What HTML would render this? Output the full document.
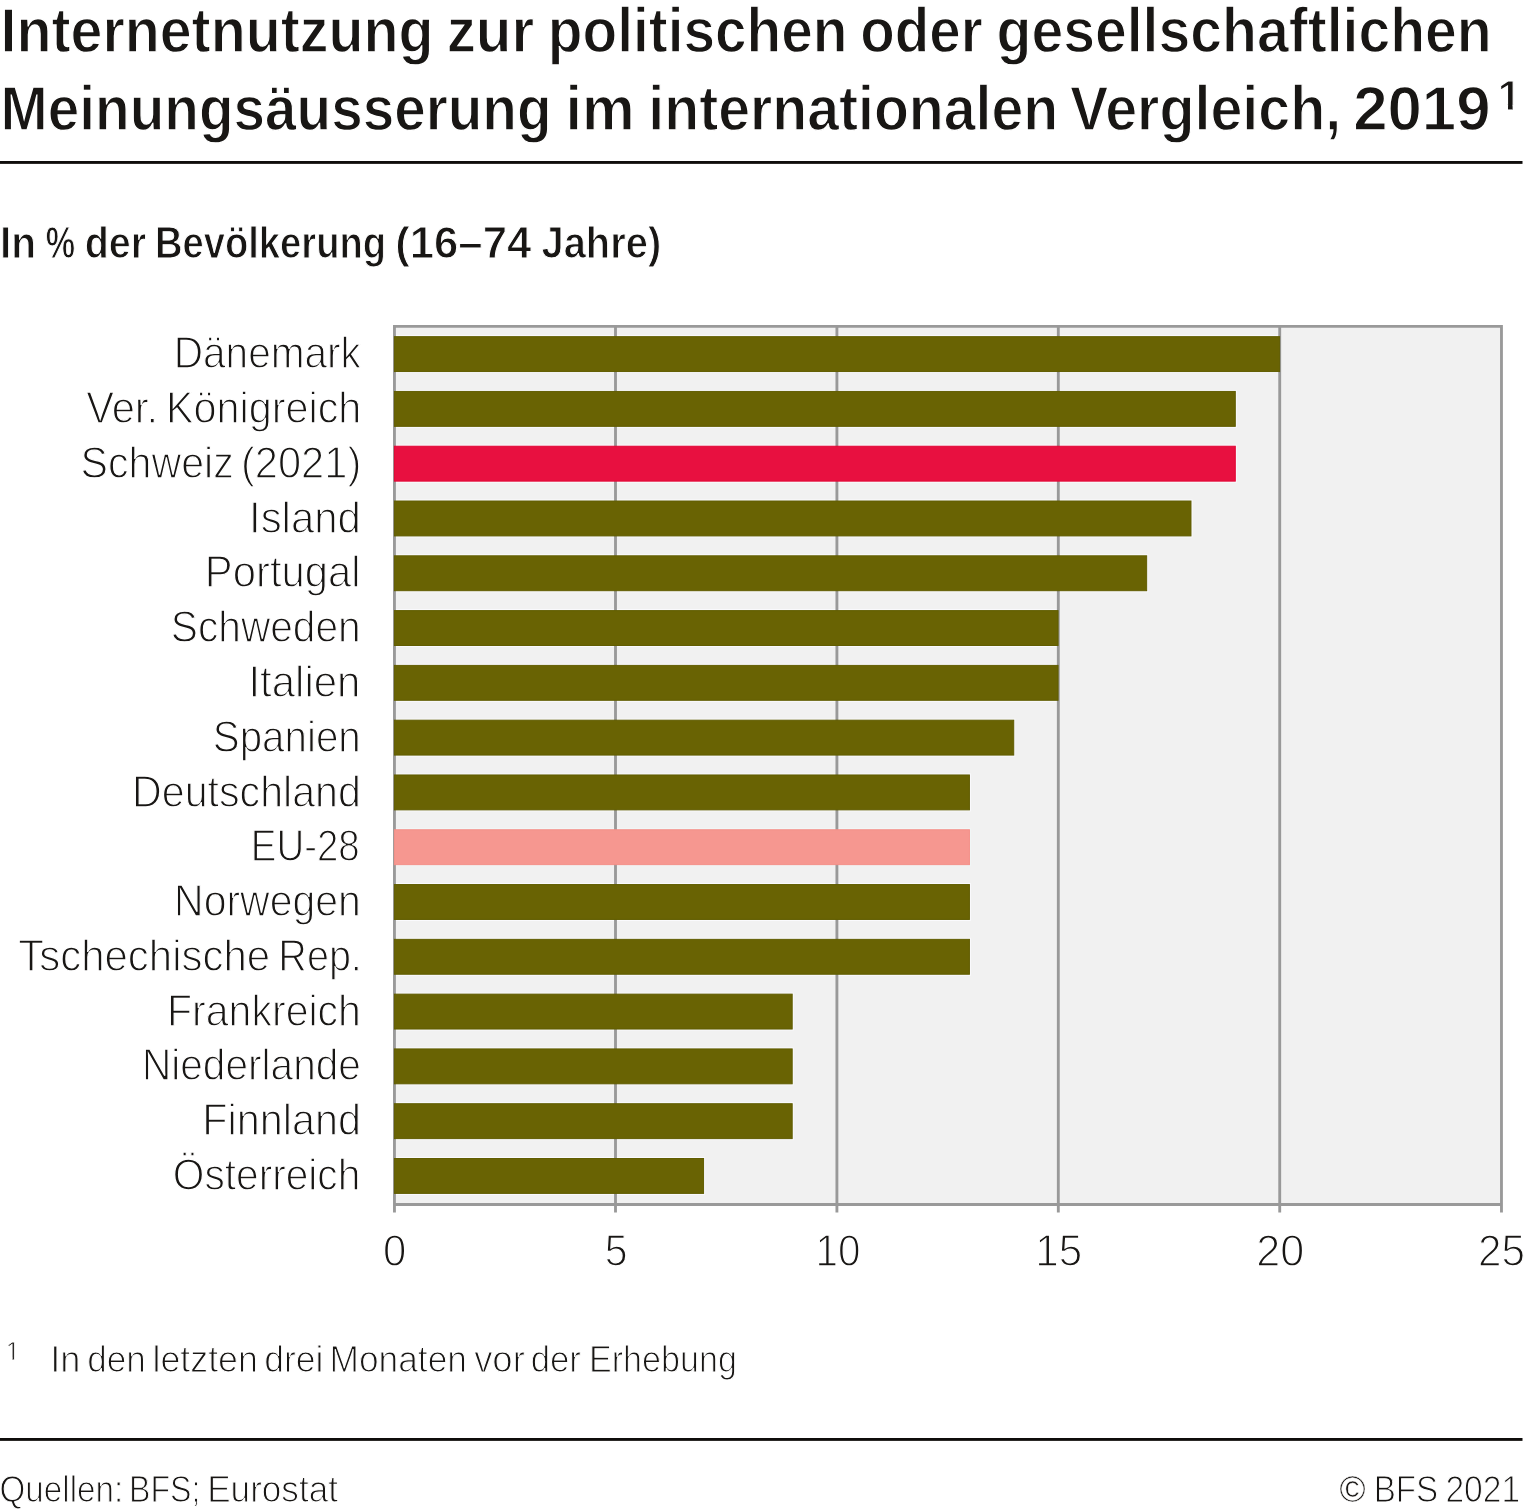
<!DOCTYPE html>
<html lang="de"><head><meta charset="utf-8"><title>Internetnutzung zur politischen oder gesellschaftlichen Meinungsäusserung im internationalen Vergleich, 2019</title>
<style>
html,body{margin:0;padding:0;background:#fff}
svg{display:block}
text{font-family:"Liberation Sans",sans-serif;fill:#181614;stroke:#fff}
.b{font-weight:bold;stroke-width:1.3}
.m{font-weight:bold;stroke-width:1.0}
.l{font-weight:normal;stroke-width:1.3}
.s{font-weight:normal;stroke-width:1.1}
</style></head><body>
<svg width="1524" height="1511" viewBox="0 0 1524 1511">
<rect width="1524" height="1511" fill="#fff"/>
<rect x="0" y="161" width="1522.5" height="2.87" fill="#0f0d0b"/>
<rect x="0" y="1438" width="1522.5" height="2.87" fill="#0f0d0b"/>
<rect x="394.45" y="326.4" width="1107.02" height="878.10" fill="#f1f1f1"/>
<rect x="394.45" y="335.15" width="886.65" height="37.90" fill="#fafafd"/>
<rect x="394.45" y="389.94" width="842.34" height="37.90" fill="#fafafd"/>
<rect x="394.45" y="444.73" width="842.34" height="37.90" fill="#fafafd"/>
<rect x="394.45" y="499.52" width="798.03" height="37.90" fill="#fafafd"/>
<rect x="394.45" y="554.31" width="753.72" height="37.90" fill="#fafafd"/>
<rect x="394.45" y="609.10" width="665.10" height="37.90" fill="#fafafd"/>
<rect x="394.45" y="663.89" width="665.10" height="37.90" fill="#fafafd"/>
<rect x="394.45" y="718.68" width="620.79" height="37.90" fill="#fafafd"/>
<rect x="394.45" y="773.47" width="576.48" height="37.90" fill="#fafafd"/>
<rect x="394.45" y="828.26" width="576.48" height="37.90" fill="#f1f7f7"/>
<rect x="394.45" y="883.05" width="576.48" height="37.90" fill="#fafafd"/>
<rect x="394.45" y="937.84" width="576.48" height="37.90" fill="#fafafd"/>
<rect x="394.45" y="992.63" width="399.24" height="37.90" fill="#fafafd"/>
<rect x="394.45" y="1047.42" width="399.24" height="37.90" fill="#fafafd"/>
<rect x="394.45" y="1102.21" width="399.24" height="37.90" fill="#fafafd"/>
<rect x="394.45" y="1157.00" width="310.62" height="37.90" fill="#fafafd"/>
<path d="M615.50 326.40V1212.50M836.91 326.40V1212.50M1058.31 326.40V1212.50M1279.72 326.40V1212.50M394.45 326.40V1212.50M1501.47 326.40V1212.50M393.02 326.4H1502.89M393.02 1204.5H1502.89" stroke="#999999" stroke-width="2.85" fill="none"/>
<rect x="394.40" y="336.65" width="885.20" height="34.9" fill="#696303" stroke="#615d01" stroke-width="1"/>
<rect x="394.40" y="391.44" width="840.89" height="34.9" fill="#696303" stroke="#615d01" stroke-width="1"/>
<rect x="394.40" y="446.23" width="840.89" height="34.9" fill="#e81040" stroke="#e20534" stroke-width="1"/>
<rect x="394.40" y="501.02" width="796.58" height="34.9" fill="#696303" stroke="#615d01" stroke-width="1"/>
<rect x="394.40" y="555.81" width="752.27" height="34.9" fill="#696303" stroke="#615d01" stroke-width="1"/>
<rect x="394.40" y="610.60" width="663.65" height="34.9" fill="#696303" stroke="#615d01" stroke-width="1"/>
<rect x="394.40" y="665.39" width="663.65" height="34.9" fill="#696303" stroke="#615d01" stroke-width="1"/>
<rect x="394.40" y="720.18" width="619.34" height="34.9" fill="#696303" stroke="#615d01" stroke-width="1"/>
<rect x="394.40" y="774.97" width="575.03" height="34.9" fill="#696303" stroke="#615d01" stroke-width="1"/>
<rect x="394.40" y="829.76" width="575.03" height="34.9" fill="#f69790" stroke="#f48f88" stroke-width="1"/>
<rect x="394.40" y="884.55" width="575.03" height="34.9" fill="#696303" stroke="#615d01" stroke-width="1"/>
<rect x="394.40" y="939.34" width="575.03" height="34.9" fill="#696303" stroke="#615d01" stroke-width="1"/>
<rect x="394.40" y="994.13" width="397.79" height="34.9" fill="#696303" stroke="#615d01" stroke-width="1"/>
<rect x="394.40" y="1048.92" width="397.79" height="34.9" fill="#696303" stroke="#615d01" stroke-width="1"/>
<rect x="394.40" y="1103.71" width="397.79" height="34.9" fill="#696303" stroke="#615d01" stroke-width="1"/>
<rect x="394.40" y="1158.50" width="309.17" height="34.9" fill="#696303" stroke="#615d01" stroke-width="1"/>
<text class="b" y="51.90" font-size="63.4"><tspan id="t1_0" x="0.52" textLength="432.97" lengthAdjust="spacingAndGlyphs">Internetnutzung</tspan> <tspan id="t1_1" x="446.67" textLength="87.59" lengthAdjust="spacingAndGlyphs">zur</tspan> <tspan id="t1_2" x="547.83" textLength="299.66" lengthAdjust="spacingAndGlyphs">politischen</tspan> <tspan id="t1_3" x="860.35" textLength="122.44" lengthAdjust="spacingAndGlyphs">oder</tspan> <tspan id="t1_4" x="996.57" textLength="495.19" lengthAdjust="spacingAndGlyphs">gesellschaftlichen</tspan></text>
<text class="b" y="130.20" font-size="63.4"><tspan id="t2_0" x="0.57" textLength="551.04" lengthAdjust="spacingAndGlyphs">Meinungsäusserung</tspan> <tspan id="t2_1" x="565.46" textLength="69.10" lengthAdjust="spacingAndGlyphs">im</tspan> <tspan id="t2_2" x="648.36" textLength="409.87" lengthAdjust="spacingAndGlyphs">internationalen</tspan> <tspan id="t2_3" x="1070.01" textLength="271.25" lengthAdjust="spacingAndGlyphs">Vergleich,</tspan> <tspan id="t2_4" x="1353.16" textLength="137.43" lengthAdjust="spacingAndGlyphs">2019</tspan></text>
<text class="m" y="257.60" font-size="43.6"><tspan id="st_0" x="-0.11" textLength="36.21" lengthAdjust="spacingAndGlyphs">In</tspan> <tspan id="st_1" x="45.76" textLength="29.35" lengthAdjust="spacingAndGlyphs">%</tspan> <tspan id="st_2" x="84.75" textLength="61.32" lengthAdjust="spacingAndGlyphs">der</tspan> <tspan id="st_3" x="154.92" textLength="231.18" lengthAdjust="spacingAndGlyphs">Bevölkerung</tspan> <tspan id="st_4" x="395.21" textLength="136.08" lengthAdjust="spacingAndGlyphs">(16–74</tspan> <tspan id="st_5" x="541.54" textLength="119.66" lengthAdjust="spacingAndGlyphs">Jahre)</tspan></text>
<text class="l" y="368.20" font-size="44.9"><tspan id="l0_0" x="173.68" textLength="187.24" lengthAdjust="spacingAndGlyphs">Dänemark</tspan></text>
<text class="l" y="422.99" font-size="44.9"><tspan id="l1_0" x="86.14" textLength="71.89" lengthAdjust="spacingAndGlyphs">Ver.</tspan> <tspan id="l1_1" x="165.90" textLength="195.46" lengthAdjust="spacingAndGlyphs">Königreich</tspan></text>
<text class="l" y="477.78" font-size="44.9"><tspan id="l2_0" x="80.59" textLength="153.19" lengthAdjust="spacingAndGlyphs">Schweiz</tspan> <tspan id="l2_1" x="240.95" textLength="120.30" lengthAdjust="spacingAndGlyphs">(2021)</tspan></text>
<text class="l" y="532.57" font-size="44.9"><tspan id="l3_0" x="249.01" textLength="111.84" lengthAdjust="spacingAndGlyphs">Island</tspan></text>
<text class="l" y="587.36" font-size="44.9"><tspan id="l4_0" x="204.85" textLength="155.69" lengthAdjust="spacingAndGlyphs">Portugal</tspan></text>
<text class="l" y="642.15" font-size="44.9"><tspan id="l5_0" x="170.83" textLength="189.89" lengthAdjust="spacingAndGlyphs">Schweden</tspan></text>
<text class="l" y="696.94" font-size="44.9"><tspan id="l6_0" x="248.45" textLength="112.00" lengthAdjust="spacingAndGlyphs">Italien</tspan></text>
<text class="l" y="751.73" font-size="44.9"><tspan id="l7_0" x="212.73" textLength="148.06" lengthAdjust="spacingAndGlyphs">Spanien</tspan></text>
<text class="l" y="806.52" font-size="44.9"><tspan id="l8_0" x="131.99" textLength="228.96" lengthAdjust="spacingAndGlyphs">Deutschland</tspan></text>
<text class="l" y="861.31" font-size="44.9"><tspan id="l9_0" x="250.79" textLength="108.96" lengthAdjust="spacingAndGlyphs">EU-28</tspan></text>
<text class="l" y="916.10" font-size="44.9"><tspan id="l10_0" x="174.04" textLength="186.87" lengthAdjust="spacingAndGlyphs">Norwegen</tspan></text>
<text class="l" y="970.89" font-size="44.9"><tspan id="l11_0" x="18.26" textLength="251.92" lengthAdjust="spacingAndGlyphs">Tschechische</tspan> <tspan id="l11_1" x="278.35" textLength="83.51" lengthAdjust="spacingAndGlyphs">Rep.</tspan></text>
<text class="l" y="1025.68" font-size="44.9"><tspan id="l12_0" x="167.05" textLength="193.90" lengthAdjust="spacingAndGlyphs">Frankreich</tspan></text>
<text class="l" y="1080.47" font-size="44.9"><tspan id="l13_0" x="141.94" textLength="219.00" lengthAdjust="spacingAndGlyphs">Niederlande</tspan></text>
<text class="l" y="1135.26" font-size="44.9"><tspan id="l14_0" x="202.28" textLength="158.65" lengthAdjust="spacingAndGlyphs">Finnland</tspan></text>
<text class="l" y="1190.05" font-size="44.9"><tspan id="l15_0" x="172.78" textLength="187.56" lengthAdjust="spacingAndGlyphs">Österreich</tspan></text>
<text class="l" y="1266.30" font-size="44.9"><tspan id="a0_0" x="383.02" textLength="23.26" lengthAdjust="spacingAndGlyphs">0</tspan></text>
<text class="l" y="1266.30" font-size="44.9"><tspan id="a1_0" x="604.78" textLength="22.77" lengthAdjust="spacingAndGlyphs">5</tspan></text>
<text class="l" y="1266.30" font-size="44.9"><tspan id="a2_0" x="815.59" textLength="44.87" lengthAdjust="spacingAndGlyphs">10</tspan></text>
<text class="l" y="1266.30" font-size="44.9"><tspan id="a3_0" x="1035.36" textLength="46.91" lengthAdjust="spacingAndGlyphs">15</tspan></text>
<text class="l" y="1266.30" font-size="44.9"><tspan id="a4_0" x="1256.36" textLength="47.97" lengthAdjust="spacingAndGlyphs">20</tspan></text>
<text class="l" y="1266.30" font-size="44.9"><tspan id="a5_0" x="1478.09" textLength="46.95" lengthAdjust="spacingAndGlyphs">25</tspan></text>
<text class="s" y="1372.25" font-size="37.2"><tspan id="fn_0" x="50.19" textLength="30.20" lengthAdjust="spacingAndGlyphs">In</tspan> <tspan id="fn_1" x="87.19" textLength="58.61" lengthAdjust="spacingAndGlyphs">den</tspan> <tspan id="fn_2" x="152.50" textLength="105.42" lengthAdjust="spacingAndGlyphs">letzten</tspan> <tspan id="fn_3" x="264.21" textLength="59.25" lengthAdjust="spacingAndGlyphs">drei</tspan> <tspan id="fn_4" x="329.52" textLength="137.42" lengthAdjust="spacingAndGlyphs">Monaten</tspan> <tspan id="fn_5" x="474.13" textLength="50.71" lengthAdjust="spacingAndGlyphs">vor</tspan> <tspan id="fn_6" x="530.65" textLength="50.25" lengthAdjust="spacingAndGlyphs">der</tspan> <tspan id="fn_7" x="588.95" textLength="147.92" lengthAdjust="spacingAndGlyphs">Erhebung</tspan></text>
<text class="s" y="1501.75" font-size="37.6"><tspan id="src_0" x="-0.45" textLength="123.57" lengthAdjust="spacingAndGlyphs">Quellen:</tspan> <tspan id="src_1" x="129.05" textLength="71.34" lengthAdjust="spacingAndGlyphs">BFS;</tspan> <tspan id="src_2" x="207.19" textLength="130.78" lengthAdjust="spacingAndGlyphs">Eurostat</tspan></text>
<text class="s" y="1501.75" font-size="37.6"><tspan id="cp_0" style="stroke-width:0.45" x="1339.62" textLength="26.07" lengthAdjust="spacingAndGlyphs">©</tspan> <tspan id="cp_1" x="1373.74" textLength="64.52" lengthAdjust="spacingAndGlyphs">BFS</tspan> <tspan id="cp_2" x="1445.42" textLength="74.86" lengthAdjust="spacingAndGlyphs">2021</tspan></text>
<defs>
<clipPath id="c1"><rect x="1500" y="70" width="16" height="34.8"/><rect x="1508.0" y="100" width="4.6" height="9.9"/></clipPath>
<clipPath id="c2"><rect x="6" y="1335" width="10" height="22.3"/><rect x="12.62" y="1355" width="1.45" height="4.9"/></clipPath>
</defs>
<g clip-path="url(#c1)"><text id="sup1" x="1497.70" y="109.9" font-size="41.74" style="font-weight:bold;stroke-width:1.13">1</text></g>
<g clip-path="url(#c2)"><text id="sup2" x="5.87" y="1359.9" font-size="25.28" style="font-weight:normal;stroke-width:0.785">1</text></g>
</svg></body></html>
